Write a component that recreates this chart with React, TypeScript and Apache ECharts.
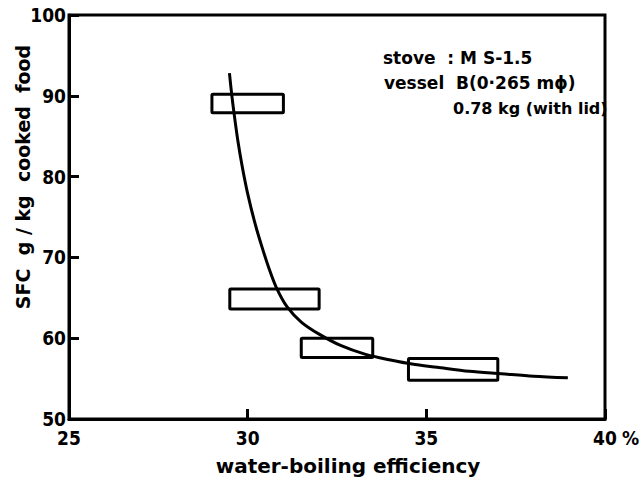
import React, { useEffect, useRef } from "react";
import * as echarts from "echarts";

const xTicks = [25, 30, 35, 40];
const yTicks = [50, 60, 70, 80, 90, 100];

// fitted curve: [efficiency %, SFC]
const curveX = [29.49, 29.55, 29.62, 29.72, 29.85, 30.0, 30.2, 30.4, 30.6, 30.8, 31.1, 31.5, 32.0, 32.6, 33.3, 34.0, 34.6, 35.3, 36.2, 37.1, 38.0, 38.96];
const curveY = [92.8, 90.3, 87.8, 84.6, 81.2, 77.9, 74.3, 71.3, 68.6, 66.3, 63.9, 62.0, 60.5, 59.1, 58.0, 57.3, 56.8, 56.4, 55.9, 55.6, 55.3, 55.1];

// data boxes: [xMin, xMax, yMin, yMax]
const boxXMin = [29.0, 29.5, 31.5, 34.5];
const boxXMax = [31.0, 32.0, 33.5, 37.0];
const boxYMin = [87.9, 63.6, 57.6, 54.8];
const boxYMax = [90.2, 66.1, 60.0, 57.5];

const annotation = ["stove  : M S-1.5", "vessel  B(0·265 mϕ)", "0.78 kg (with lid)"];
const xName = "water-boiling efficiency";
const yName = "SFC  g / kg  cooked  food";
const xUnit = "%";

const FONT = "'DejaVu Sans', sans-serif";
const NUMFONT = "'DejaVu Sans Condensed', 'DejaVu Sans', sans-serif";

export default function App() {
  const ref = useRef<HTMLDivElement>(null);
  useEffect(() => {
    if (!ref.current) return;
    const chart = echarts.init(ref.current, undefined, { renderer: "svg" });
    const curve = curveX.map((x, i) => [x, curveY[i]]);
    const boxes = boxXMin.map((x, i) => [x, boxXMax[i], boxYMin[i], boxYMax[i]]);
    const W = 3;
    chart.setOption({
      animation: false,
      backgroundColor: "#fff",
      grid: {
        left: 69,
        right: 38,
        top: 15,
        bottom: 65,
        show: true,
        borderColor: "#000",
        borderWidth: W,
      },
      xAxis: {
        type: "value",
        min: 25,
        max: 40,
        interval: 5,
        axisLine: { show: true, lineStyle: { color: "#000", width: W } },
        axisTick: { show: true, inside: true, length: 10, lineStyle: { color: "#000", width: W } },
        splitLine: { show: false },
        axisLabel: {
          color: "#000",
          fontFamily: NUMFONT,
          fontWeight: "bold",
          fontSize: 19,
          margin: 9,
          formatter: (v: number) => (xTicks.includes(v) ? String(v) : ""),
        },
      },
      yAxis: {
        type: "value",
        min: 50,
        max: 100,
        interval: 10,
        axisLine: { show: true, lineStyle: { color: "#000", width: W } },
        axisTick: { show: true, inside: true, length: 10, lineStyle: { color: "#000", width: W } },
        splitLine: { show: false },
        axisLabel: {
          color: "#000",
          fontFamily: NUMFONT,
          fontWeight: "bold",
          fontSize: 19,
          margin: 3,
          formatter: (v: number) => (yTicks.includes(v) ? String(v) : ""),
        },
      },
      series: [
        {
          type: "line",
          data: curve,
          smooth: 0.3,
          symbol: "none",
          lineStyle: { color: "#000", width: W },
          z: 3,
        },
        {
          type: "custom",
          data: boxes,
          z: 4,
          renderItem: (_params: any, api: any) => {
            const p1 = api.coord([api.value(0), api.value(3)]);
            const p2 = api.coord([api.value(1), api.value(2)]);
            return {
              type: "rect",
              shape: { x: p1[0], y: p1[1], width: p2[0] - p1[0], height: p2[1] - p1[1], r: 1 },
              style: { fill: "none", stroke: "#000", lineWidth: W },
            };
          },
        },
      ],
      graphic: [
        {
          type: "text",
          x: 622,
          y: 438,
          style: { text: xUnit, fill: "#000", font: `bold 19px ${NUMFONT}`, textVerticalAlign: "middle" },
          silent: true,
        },
        {
          type: "text",
          x: 348,
          y: 466,
          style: {
            text: xName,
            fill: "#000",
            font: `bold 20px ${FONT}`,
            textAlign: "center",
            textVerticalAlign: "middle",
          },
        },
        {
          type: "text",
          x: 23,
          y: 177,
          rotation: Math.PI / 2,
          style: {
            text: yName,
            fill: "#000",
            font: `bold 19px ${FONT}`,
            textAlign: "center",
            textVerticalAlign: "middle",
          },
        },
        {
          type: "text",
          x: 383,
          y: 58,
          style: { text: annotation[0], fill: "#000", font: `bold 17px ${FONT}`, textVerticalAlign: "middle" },
        },
        {
          type: "text",
          x: 384,
          y: 83,
          style: { text: annotation[1], fill: "#000", font: `bold 17px ${FONT}`, textVerticalAlign: "middle" },
        },
        {
          type: "text",
          x: 453,
          y: 108,
          style: { text: annotation[2], fill: "#000", font: `bold 16px ${FONT}`, textVerticalAlign: "middle" },
        },
      ],
    });
    return () => chart.dispose();
  }, []);
  return <div ref={ref} style={{ width: 643, height: 484, position: "absolute", left: 0, top: 0 }} />;
}
